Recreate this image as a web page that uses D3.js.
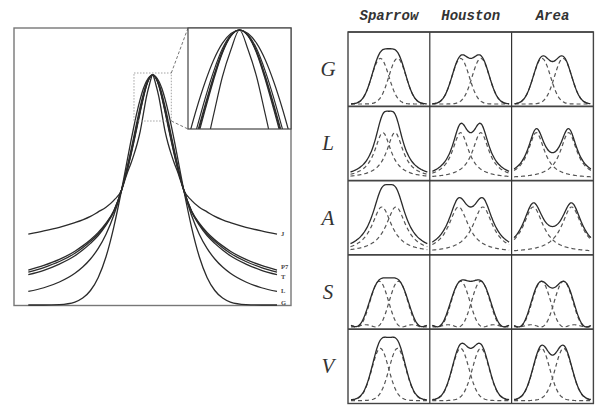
<!DOCTYPE html>
<html>
<head>
<meta charset="utf-8">
<script src="https://cdn.jsdelivr.net/npm/d3@7"></script>
<style>
body { margin: 0; background: #fff; }
svg { display: block; }
</style>
</head>
<body>
<svg id="fig" width="598" height="406"></svg>
<script>
// ---------- left panel: half profiles, offsets in HWHM units ----------
var leftX   = [0, .1, .2, .3, .4, .5, .6, .7, .8, .9, 1, 1.25, 1.5, 1.75, 2, 2.25, 2.5, 3, 3.5, 4];
var leftJ   = [1, .96, .905, .83, .755, .70, .655, .615, .58, .54, .5, .455, .425, .405, .385, .37, .358, .338, .322, .308];
var leftP7a = [1, .989, .957, .907, .849, .787, .724, .662, .604, .550, .5, .41, .356, .316, .284, .257, .234, .198, .172, .152];
var leftP7b = [1, .988, .955, .904, .844, .781, .717, .656, .599, .547, .5, .408, .352, .310, .277, .249, .225, .189, .163, .143];
var leftT   = [1, .988, .953, .900, .839, .775, .711, .651, .595, .545, .5, .405, .347, .302, .268, .239, .214, .178, .151, .132];
var leftL   = [1, .990, .962, .917, .862, .800, .735, .671, .610, .552, .5, .390, .308, .246, .200, .165, .138, .100, .075, .059];
var leftG   = [1, .993, .973, .940, .895, .841, .779, .712, .642, .570, .5, .339, .210, .120, .063, .030, .013, .002, 0, 0];
var leftCurves = [leftJ, leftP7a, leftP7b, leftT, leftL, leftG];
var leftLabels = ["J", "P7", "", "T", "L", "G"];

// ---------- right panel: half profiles every 0.1 HWHM (of the G row) ----------
var profG = [1, .993, .973, .940, .895, .841, .779, .712, .642, .570, .500, .432, .369, .310, .257, .210, .170, .135, .106, .082,
             .063, .047, .035, .026, .019, .013, .009, .006, .004, .003, .002, .001, .001, .001, 0, 0];
var profL = [1, .990, .962, .917, .862, .800, .735, .671, .610, .552, .500, .452, .410, .372, .338, .308, .281, .257, .236, .217,
             .200, .185, .171, .159, .148, .138, .129, .121, .113, .106, .100, .094, .089, .084, .080, .075, .072, .068, .065, .062,
             .059, .056, .054, .051, .049, .047, .045, .043, .042, .040, .038, .037, .036, .034, .033, .032, .031, .030];
var profA = [1, .993, .973, .941, .900, .852, .800, .746, .692, .640, .590, .543, .500, .460, .424, .390, .360, .333, .308, .285,
             .265, .246, .229, .214, .200, .187, .176, .165, .155, .146, .138, .130, .123, .117, .111, .105, .100, .095, .091, .086,
             .083, .079, .075, .072, .069, .066, .064, .061, .059, .057, .054, .052, .051, .049, .047, .045, .044, .042];
var profS = [1, .994, .974, .943, .901, .849, .788, .721, .649, .575, .500, .426, .355, .289, .228, .174, .127, .088, .056, .033,
             .016, .006, .001, 0, .003, .009, .016, .024, .031, .037, .042, .046, .047, .047, .045, .041, .036, .031, .025, .019,
             .014, .009, .005, .002, .001, 0, 0, .002, .003, .006, .008];
var profV = [1, .993, .971, .936, .890, .835, .773, .706, .637, .568, .500, .435, .375, .319, .269, .225, .186, .153, .125, .102,
             .083, .068, .055, .046, .038, .032, .027, .024, .021, .018, .017, .015, .014, .013, .012, .012, .011, .010, .010, .009, .009];

var rowNames = ["G", "L", "A", "S", "V"];
var rowProfiles = [profG, profL, profA, profS, profV];
var rowPeak = [1, 1, 1, 1, 1.16];          // component height relative to the G row
var colNames = ["Sparrow", "Houston", "Area"];
// peak separations, tenths of HWHM, one value per row
var sepSparrow = [17, 12, 14, 19, 17];
var sepHouston = [20, 20, 24, 20, 20];
var sepArea    = [21, 32, 38, 22, 22];
var separations = [sepSparrow, sepHouston, sepArea];

var svg = d3.select("#fig");
var ink = "#2b2b2b";

// ================= left panel =================
var xMain = d3.scaleLinear().domain([-4, 4]).range([28.3, 277]);
var yMain = d3.scaleLinear().domain([0, 1]).range([305, 75]);
var xZoom = d3.scaleLinear().domain([-0.6, 0.6]).range([188, 291]);
var yZoom = d3.scaleLinear().domain([0.8, 1.0]).range([129, 30]);

var mirror = function (vals) {
    var pts = [];
    for (var i = vals.length - 1; i > 0; i--) pts.push([-leftX[i], vals[i]]);
    for (i = 0; i < vals.length; i++) pts.push([leftX[i], vals[i]]);
    return pts;
};

svg.append("rect")
    .attr("x", 14).attr("y", 28).attr("width", 277).attr("height", 277.5)
    .attr("fill", "none").attr("stroke", "#777").attr("stroke-width", 1.4);

var mainLine = d3.line()
    .x(function (d) { return xMain(d[0]); })
    .y(function (d) { return yMain(d[1]); })
    .curve(d3.curveMonotoneX);

svg.append("g").selectAll("path")
    .data(leftCurves)
    .enter().append("path")
    .attr("d", function (c) { return mainLine(mirror(c)); })
    .attr("fill", "none").attr("stroke", ink).attr("stroke-width", 1.3);

// curve labels at the right end
var labelShift = [2, -1, 0, 4, 2, -0.5];
svg.append("g").selectAll("text")
    .data(leftLabels)
    .enter().append("text")
    .attr("x", 281)
    .attr("y", function (d, i) { return yMain(leftCurves[i][leftCurves[i].length - 1]) + labelShift[i]; })
    .attr("font-family", "Liberation Serif, serif")
    .attr("font-weight", "bold")
    .attr("font-size", 6.5)
    .attr("fill", "#444")
    .text(function (d) { return d; });

// zoom box and connectors
var bx0 = xMain(-0.6), bx1 = xMain(0.6), by0 = yMain(1.0) - 2, by1 = yMain(0.8);
svg.append("rect")
    .attr("x", bx0).attr("y", by0).attr("width", bx1 - bx0).attr("height", by1 - by0)
    .attr("fill", "none").attr("stroke", "#999").attr("stroke-width", 0.9)
    .attr("stroke-dasharray", "1.5,1.5");
svg.append("line")
    .attr("x1", bx1).attr("y1", by0).attr("x2", 188).attr("y2", 28)
    .attr("stroke", "#777").attr("stroke-width", 1).attr("stroke-dasharray", "3,2");
svg.append("line")
    .attr("x1", bx1).attr("y1", by1).attr("x2", 188).attr("y2", 129)
    .attr("stroke", "#777").attr("stroke-width", 1).attr("stroke-dasharray", "3,2");

// inset
svg.append("clipPath").attr("id", "inset-clip")
    .append("rect").attr("x", 188).attr("y", 28).attr("width", 103).attr("height", 101);
svg.append("rect")
    .attr("x", 188).attr("y", 28).attr("width", 103).attr("height", 101)
    .attr("fill", "#fff");

var zoomLine = d3.line()
    .x(function (d) { return xZoom(d[0]); })
    .y(function (d) { return yZoom(d[1]); })
    .curve(d3.curveMonotoneX);

svg.append("g").attr("clip-path", "url(#inset-clip)").selectAll("path")
    .data(leftCurves)
    .enter().append("path")
    .attr("d", function (c) { return zoomLine(mirror(c)); })
    .attr("fill", "none").attr("stroke", ink).attr("stroke-width", 1.2);

svg.append("rect")
    .attr("x", 188).attr("y", 28).attr("width", 103).attr("height", 101)
    .attr("fill", "none").attr("stroke", "#444").attr("stroke-width", 1.2);

// ================= right panel =================
var gx0 = 348, gy0 = 32, cw = 81.8, rh = 74.3;
var step = 0.1;

var grid = svg.append("g");

colNames.forEach(function (c, ci) {
    grid.append("text")
        .attr("x", gx0 + ci * cw + cw / 2).attr("y", 20)
        .attr("text-anchor", "middle")
        .attr("font-family", "Liberation Mono, monospace")
        .attr("font-weight", "bold").attr("font-style", "italic")
        .attr("font-size", 14).attr("fill", "#333")
        .text(c);
});

rowNames.forEach(function (r, ri) {
    grid.append("text")
        .attr("x", 328).attr("y", gy0 + ri * rh + rh / 2 + 7)
        .attr("text-anchor", "middle")
        .attr("font-family", "Liberation Serif, serif")
        .attr("font-style", "italic")
        .attr("font-size", 21).attr("fill", "#333")
        .text(r);
});

var cellLine = function (xs, ys) {
    return d3.line()
        .x(function (d) { return xs(d[0]); })
        .y(function (d) { return ys(d[1]); })
        .curve(d3.curveMonotoneX);
};

rowNames.forEach(function (r, ri) {
    var prof = rowProfiles[ri];
    var at = function (i) { return prof[Math.min(Math.abs(i), prof.length - 1)]; };
    colNames.forEach(function (c, ci) {
        var n = separations[ci][ri];
        var cx = gx0 + ci * cw, cy = gy0 + ri * rh;
        var xs = d3.scaleLinear().domain([-3.8, 3.8]).range([cx + 2.5, cx + cw - 2.5]);
        var ys = d3.scaleLinear().domain([0, 1]).range([cy + rh - 2.3, cy + rh - 2.3 - 45.6 * rowPeak[ri]]);
        var line = cellLine(xs, ys);

        var kMin = Math.ceil(-3.8 / step + n / 2 - 1e-9);
        var kMax = Math.floor(3.8 / step + n / 2 + 1e-9);
        var left = [], right = [], sum = [];
        for (var k = kMin; k <= kMax; k++) {
            var x = (k - n / 2) * step;
            left.push([x, at(k)]);
            right.push([x, at(k - n)]);
            sum.push([x, at(k) + at(k - n)]);
        }

        var g = grid.append("g");
        g.selectAll("path.comp")
            .data([left, right])
            .enter().append("path")
            .attr("class", "comp")
            .attr("d", line)
            .attr("fill", "none").attr("stroke", "#555").attr("stroke-width", 1.2)
            .attr("stroke-dasharray", "4,3");
        g.append("path")
            .attr("d", line(sum))
            .attr("fill", "none").attr("stroke", ink).attr("stroke-width", 1.3);
    });
});

// cell frames
for (var ri = 0; ri < rowNames.length; ri++) {
    grid.append("line")
        .attr("x1", gx0).attr("x2", gx0 + 3 * cw)
        .attr("y1", gy0 + ri * rh).attr("y2", gy0 + ri * rh)
        .attr("stroke", "#444").attr("stroke-width", ri === 0 ? 1.3 : 1.8);
}
for (var ci = 1; ci < colNames.length; ci++) {
    grid.append("line")
        .attr("x1", gx0 + ci * cw).attr("x2", gx0 + ci * cw)
        .attr("y1", gy0).attr("y2", gy0 + 5 * rh)
        .attr("stroke", "#333").attr("stroke-width", 1.2);
}
grid.append("rect")
    .attr("x", gx0).attr("y", gy0).attr("width", 3 * cw).attr("height", 5 * rh)
    .attr("fill", "none").attr("stroke", "#444").attr("stroke-width", 1.4);
</script>
</body>
</html>
